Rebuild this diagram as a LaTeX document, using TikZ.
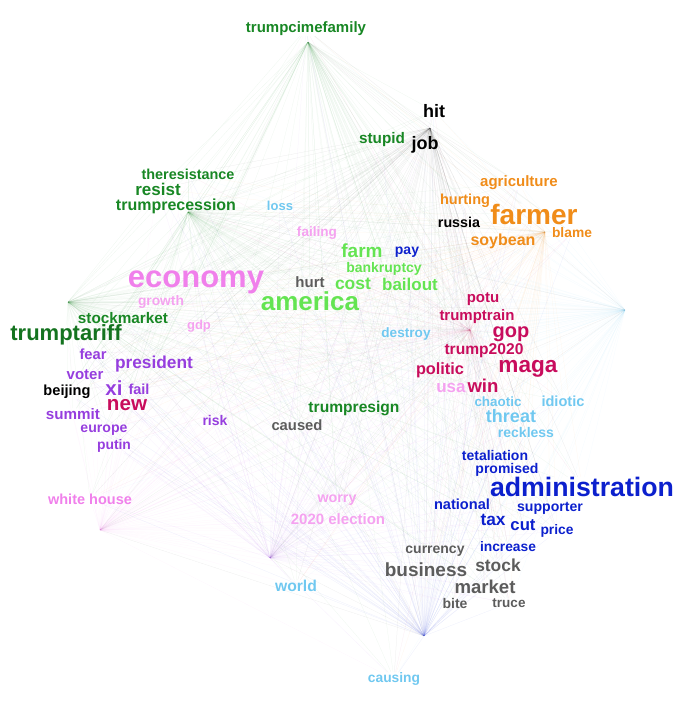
\documentclass[tikz,border=0pt]{standalone}
\usepackage{fontspec}
\setmainfont{Liberation Sans}
\usetikzlibrary{backgrounds}

\definecolor{resistgreen}{RGB}{24,135,36}
\definecolor{farmgreen}{RGB}{100,228,82}
\definecolor{farmorange}{RGB}{240,140,25}
\definecolor{econpink}{RGB}{240,128,235}
\definecolor{palepink}{RGB}{245,162,240}
\definecolor{xipurple}{RGB}{150,62,222}
\definecolor{magared}{RGB}{200,12,92}
\definecolor{threatblue}{RGB}{112,200,240}
\definecolor{adminblue}{RGB}{12,32,205}
\definecolor{stockgray}{RGB}{92,92,92}

\newcommand{\wsize}[1]{\fontsize{#1}{#1}\selectfont}
\newcommand{\allwords}{trumpcimefamily, hit, stupid, job, theresistance, resist,
  trumprecession, loss, failing, agriculture, hurting, farmer, russia, blame,
  soybean, farm, pay, economy, hurt, bankruptcy, america, cost, bailout, growth,
  stockmarket, gdp, trumptariff, potu, trumptrain, destroy, gop, fear, president,
  trump2020, voter, maga, politic, beijing, xi, fail, usa, win, new, summit,
  chaotic, idiotic, trumpresign, threat, europe, risk, caused, putin, reckless,
  tetaliation, promised, administration, whitehouse, worry, national, supporter,
  election2020, tax, cut, price, increase, currency, business, stock, world,
  market, bite, truce, causing}

\begin{document}
\begin{tikzpicture}[
    x=1pt, y=-1pt,
    cloud word/.style={
      inner sep=0pt,
      font=\bfseries\wsize{#1}
    },
    net edge/.style={
      line width=0.25pt,
      draw opacity=0.08
    }
  ]
  \useasboundingbox (0,0) rectangle (686,710);

  % hubs of the network
  \coordinate (hubTop) at (308,42);
  \coordinate (hubResist) at (188,212);
  \coordinate (hubLeft) at (68,302);
  \coordinate (hubWhite) at (100,530);
  \coordinate (hubWorld) at (270,558);
  \coordinate (hubBottom) at (424,636);
  \coordinate (hubCenter) at (470,330);
  \coordinate (hubJob) at (430,128);
  \coordinate (hubFarm) at (545,232);
  \coordinate (hubRight) at (625,310);

  % green cluster
  \node[cloud word=15, text=resistgreen] (trumpcimefamily) at (306,29) {trumpcimefamily};
  \node[cloud word=15.3, text=resistgreen] (stupid) at (382,140) {stupid};
  \node[cloud word=14.4, text=resistgreen] (theresistance) at (188,174) {theresistance};
  \node[cloud word=17, text=resistgreen] (resist) at (158,189) {resist};
  \node[cloud word=16, text=resistgreen] (trumprecession) at (176,206) {trumprecession};
  \node[cloud word=15.3, text=resistgreen] (stockmarket) at (123,318) {stockmarket};
  \node[cloud word=22, text=resistgreen!85!black] (trumptariff) at (66,335) {trumptariff};
  \node[cloud word=15.6, text=resistgreen] (trumpresign) at (354,408) {trumpresign};

  % black
  \node[cloud word=18, text=black] (hit) at (434,111) {hit};
  \node[cloud word=18, text=black] (job) at (425,145) {job};
  \node[cloud word=14.3, text=black] (russia) at (459,222) {russia};
  \node[cloud word=14.6, text=black] (beijing) at (67,392) {beijing};

  % orange
  \node[cloud word=15, text=farmorange] (agriculture) at (519,183) {agriculture};
  \node[cloud word=14.5, text=farmorange] (hurting) at (465,201) {hurting};
  \node[cloud word=28, text=farmorange] (farmer) at (534,214) {farmer};
  \node[cloud word=13.8, text=farmorange] (blame) at (572,233) {blame};
  \node[cloud word=16, text=farmorange] (soybean) at (503,241) {soybean};

  % light green
  \node[cloud word=19, text=farmgreen] (farm) at (362,251) {farm};
  \node[cloud word=14, text=farmgreen] (bankruptcy) at (384,269) {bankruptcy};
  \node[cloud word=17.5, text=farmgreen] (cost) at (353,284) {cost};
  \node[cloud word=17, text=farmgreen] (bailout) at (410,284) {bailout};
  \node[cloud word=26, text=farmgreen] (america) at (310,301) {america};

  % pink
  \node[cloud word=13.6, text=palepink] (failing) at (317,233) {failing};
  \node[cloud word=31, text=econpink] (economy) at (196,282) {economy};
  \node[cloud word=13.8, text=palepink] (growth) at (161,302) {growth};
  \node[cloud word=13, text=palepink] (gdp) at (199,326) {gdp};
  \node[cloud word=17, text=palepink] (usa) at (451,388) {usa};
  \node[cloud word=14.5, text=econpink] (whitehouse) at (90,499) {white house};
  \node[cloud word=14.3, text=palepink] (worry) at (337,500) {worry};
  \node[cloud word=15, text=palepink] (election2020) at (338,519) {2020 election};

  % purple
  \node[cloud word=14.7, text=xipurple] (fear) at (93,354) {fear};
  \node[cloud word=17.3, text=xipurple] (president) at (154,364) {president};
  \node[cloud word=15, text=xipurple] (voter) at (85,375) {voter};
  \node[cloud word=20.4, text=xipurple] (xi) at (114,388) {xi};
  \node[cloud word=14.5, text=xipurple] (fail) at (139,389) {fail};
  \node[cloud word=15.2, text=xipurple] (summit) at (73,414) {summit};
  \node[cloud word=14.1, text=xipurple] (europe) at (104,430) {europe};
  \node[cloud word=13.9, text=xipurple] (putin) at (114,446) {putin};
  \node[cloud word=14, text=xipurple] (risk) at (215,420) {risk};

  % crimson
  \node[cloud word=20.6, text=magared] (new) at (127,405) {new};
  \node[cloud word=15, text=magared] (potu) at (483,299) {potu};
  \node[cloud word=15, text=magared] (trumptrain) at (477,317) {trumptrain};
  \node[cloud word=20, text=magared] (gop) at (511,334) {gop};
  \node[cloud word=15.6, text=magared] (trump2020) at (484,351) {trump2020};
  \node[cloud word=22.6, text=magared] (maga) at (528,369) {maga};
  \node[cloud word=16.3, text=magared] (politic) at (440,370) {politic};
  \node[cloud word=18.6, text=magared] (win) at (483,386) {win};

  % light blue
  \node[cloud word=13, text=threatblue] (loss) at (280,206) {loss};
  \node[cloud word=13.6, text=threatblue] (destroy) at (406,334) {destroy};
  \node[cloud word=13.4, text=threatblue] (chaotic) at (498,402) {chaotic};
  \node[cloud word=14.6, text=threatblue] (idiotic) at (563,401) {idiotic};
  \node[cloud word=18, text=threatblue] (threat) at (511,416) {threat};
  \node[cloud word=14, text=threatblue] (reckless) at (526,432) {reckless};
  \node[cloud word=15.7, text=threatblue] (world) at (296,586) {world};
  \node[cloud word=13.8, text=threatblue] (causing) at (394,679) {causing};

  % blue
  \node[cloud word=14, text=adminblue] (pay) at (407,252) {pay};
  \node[cloud word=14, text=adminblue] (tetaliation) at (495,455) {tetaliation};
  \node[cloud word=14, text=adminblue] (promised) at (507,470) {promised};
  \node[cloud word=26.7, text=adminblue] (administration) at (582,487) {administration};
  \node[cloud word=14.6, text=adminblue] (national) at (462,504) {national};
  \node[cloud word=14.1, text=adminblue] (supporter) at (550,508) {supporter};
  \node[cloud word=17.3, text=adminblue] (tax) at (493,520) {tax};
  \node[cloud word=16.7, text=adminblue] (cut) at (523,525) {cut};
  \node[cloud word=13.8, text=adminblue] (price) at (557,531) {price};
  \node[cloud word=13.8, text=adminblue] (increase) at (508,547) {increase};

  % gray
  \node[cloud word=15, text=stockgray] (hurt) at (310,282) {hurt};
  \node[cloud word=14.8, text=stockgray] (caused) at (297,425) {caused};
  \node[cloud word=14, text=stockgray] (currency) at (435,551) {currency};
  \node[cloud word=19, text=stockgray] (business) at (426,570) {business};
  \node[cloud word=17.4, text=stockgray] (stock) at (498,565) {stock};
  \node[cloud word=18.6, text=stockgray] (market) at (485,587) {market};
  \node[cloud word=14, text=stockgray] (bite) at (455,603) {bite};
  \node[cloud word=13.5, text=stockgray] (truce) at (509,603) {truce};

  % faint edges behind the words
  \begin{scope}[on background layer]
    \foreach \h/\c in {hubTop/resistgreen, hubResist/resistgreen, hubLeft/resistgreen,
        hubWhite/econpink, hubWorld/xipurple, hubBottom/adminblue,
        hubCenter/magared, hubJob/black, hubFarm/farmorange, hubRight/threatblue}
      \foreach \w in \allwords
        \draw[net edge, draw=\c] (\h) -- (\w);
    \foreach \a in {hubTop, hubResist, hubLeft, hubWhite, hubWorld}
      \foreach \b in {hubBottom, hubCenter, hubJob, hubFarm, hubRight}
        \draw[net edge, draw=gray, draw opacity=0.15] (\a) -- (\b);
  \end{scope}
\end{tikzpicture}
\end{document}
